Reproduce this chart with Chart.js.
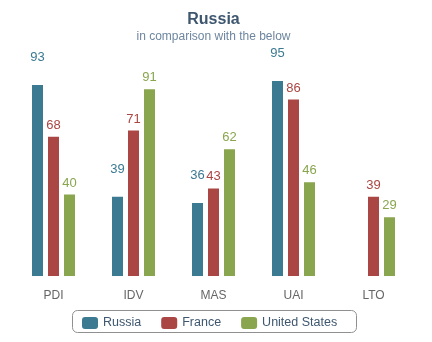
<!DOCTYPE html>
<html>
<head>
<meta charset="utf-8">
<script src="https://cdn.jsdelivr.net/npm/chart.js@4/dist/chart.umd.min.js"></script>
<style>
html,body{margin:0;padding:0;background:#fff;}
#wrap{width:432px;height:342px;}
</style>
</head>
<body>
<div id="wrap"><canvas id="c" width="432" height="342"></canvas></div>
<script>
const categories = ['PDI', 'IDV', 'MAS', 'UAI', 'LTO'];
const russia = [93, 39, 36, 95, null];
const france = [68, 71, 43, 86, 39];
const unitedStates = [40, 91, 62, 46, 29];
const seriesNames = ['Russia', 'France', 'United States'];
const seriesColors = ['#3b7a91', '#aa4643', '#89a54e'];
const labelOffsets = [26.5, 10.5, 10.5];
const FONT = '"Liberation Sans", Arial, sans-serif';

const labelPlugin = {
  id: 'barLabels',
  afterDatasetsDraw(chart) {
    const ctx = chart.ctx;
    ctx.save();
    ctx.font = '13px ' + FONT;
    ctx.textAlign = 'center';
    ctx.textBaseline = 'middle';
    chart.data.datasets.forEach((ds, di) => {
      const meta = chart.getDatasetMeta(di);
      meta.data.forEach((bar, i) => {
        const v = ds.data[i];
        if (v === null || v === undefined) return;
        ctx.fillStyle = seriesColors[di];
        ctx.fillText(String(v), bar.x, bar.y - labelOffsets[di]);
      });
    });
    ctx.restore();
  }
};

const legendPlugin = {
  id: 'boxLegend',
  afterDraw(chart) {
    const ctx = chart.ctx;
    ctx.save();
    ctx.font = '12.5px ' + FONT;
    const boxW = 16, boxH = 12, textGap = 5, itemGap = 20;
    const widths = seriesNames.map(n => boxW + textGap + ctx.measureText(n).width);
    const total = widths.reduce((a, b) => a + b, 0) + itemGap * (seriesNames.length - 1);
    const padL = 9.5, padR = 19;
    const bw = Math.round(total + padL + padR);
    const bx = Math.round(214 - bw / 2) + 0.5;
    let x = bx + padL;
    const cy = 323;
    const by = 310.5, bh = 22;
    ctx.strokeStyle = '#909090';
    ctx.lineWidth = 1;
    ctx.beginPath();
    ctx.roundRect(bx, by, bw, bh, 5);
    ctx.stroke();
    seriesNames.forEach((n, i) => {
      ctx.fillStyle = seriesColors[i];
      ctx.beginPath();
      ctx.roundRect(x, cy - boxH / 2, boxW, boxH, 3);
      ctx.fill();
      ctx.fillStyle = '#3e576f';
      ctx.textBaseline = 'middle';
      ctx.textAlign = 'left';
      ctx.fillText(n, x + boxW + textGap, cy);
      x += widths[i] + itemGap;
    });
    ctx.restore();
  }
};

const border = 'rgba(255,255,255,0.45)';
new Chart(document.getElementById('c'), {
  type: 'bar',
  data: {
    labels: categories,
    datasets: [
      { label: seriesNames[0], data: russia, backgroundColor: seriesColors[0], borderColor: border, borderWidth: 1 },
      { label: seriesNames[1], data: france, backgroundColor: seriesColors[1], borderColor: border, borderWidth: 1 },
      { label: seriesNames[2], data: unitedStates, backgroundColor: seriesColors[2], borderColor: border, borderWidth: 1 }
    ]
  },
  options: {
    responsive: false,
    animation: false,
    devicePixelRatio: 1,
    layout: { padding: { left: 13.5, right: 18.5, top: 0, bottom: 27.3 } },
    datasets: { bar: { categoryPercentage: 0.6, barPercentage: 0.8125 } },
    scales: {
      x: {
        grid: { display: false, drawTicks: false },
        border: { display: false },
        ticks: { color: '#666666', font: { family: FONT, size: 12 }, padding: 12 }
      },
      y: {
        display: false,
        min: 0,
        max: 100
      }
    },
    plugins: {
      legend: { display: false },
      tooltip: { enabled: false },
      title: {
        display: true,
        text: 'Russia',
        color: '#3e576f',
        font: { family: FONT, size: 16, weight: 'bold' },
        padding: { top: 10, bottom: 0 }
      },
      subtitle: {
        display: true,
        text: 'in comparison with the below',
        color: '#6d869f',
        font: { family: FONT, size: 12 },
        padding: { top: 0, bottom: 26 }
      }
    }
  },
  plugins: [labelPlugin, legendPlugin]
});
</script>
</body>
</html>
